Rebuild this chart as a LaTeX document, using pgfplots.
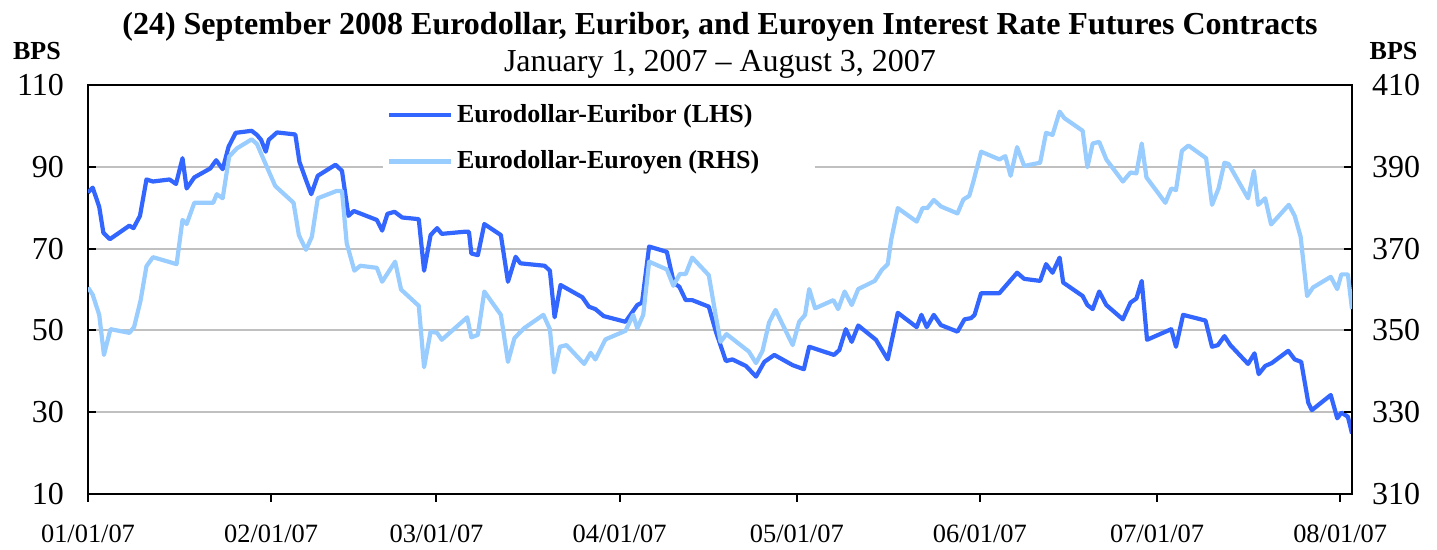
\documentclass[border=0pt]{standalone}
\usepackage{fontspec}
\setmainfont{Liberation Serif}
\usepackage{pgfplots}
\pgfplotsset{compat=1.18}
\definecolor{dblue}{RGB}{51,102,255}
\definecolor{lblue}{RGB}{153,204,255}
\definecolor{gridgray}{RGB}{192,192,192}

\pgfplotstableread{
d v
0 83.7
0.8 84.9
1.9 80.2
2.6 73.9
3.7 72.3
7.0 75.6
7.7 75.0
8.8 78.0
9.9 86.9
11.0 86.4
13.8 86.9
14.9 85.8
16.0 92.1
16.7 84.7
18.0 87.4
20.7 89.6
21.7 91.6
22.8 89.4
23.8 94.9
25.0 98.3
27.7 98.8
28.6 97.8
29.3 96.6
30.1 93.7
30.6 96.6
32.0 98.4
35.1 97.9
35.8 91.2
37.0 86.4
37.8 83.3
38.9 87.8
41.9 90.5
43.0 89.0
44.1 78.0
45.0 79.2
48.9 77.0
49.8 74.4
50.7 78.5
51.9 79.0
53.2 77.6
56.0 77.2
56.9 64.6
58.0 73.3
59.1 75.0
59.9 73.6
63.6 74.1
64.5 74.1
64.9 68.8
66.0 68.4
67.1 76.0
69.9 73.3
71.1 61.9
72.4 68.0
73.2 66.4
77.3 65.8
78.2 64.6
79.0 53.2
80.0 61.1
83.7 58.1
84.8 55.8
85.9 55.2
87.3 53.5
91.0 52.1
93.0 56.2
93.8 56.8
95.0 70.5
98.0 69.2
99.2 61.5
100.1 60.7
101.2 57.4
102.3 57.4
105.1 55.8
106.3 49.7
108.0 42.5
109.1 42.9
111.4 41.3
113.1 38.7
114.5 42.3
116.2 44.0
119.3 41.5
121.2 40.5
122.1 46.0
126.3 44.0
127.2 45.2
128.3 50.3
129.3 47.2
130.4 51.2
133.4 47.7
135.4 42.9
137.1 54.3
140.3 50.8
141.1 53.8
142.0 50.8
143.2 53.8
144.4 51.3
147.2 49.7
148.4 52.7
149.5 53.0
150.1 53.8
151.2 59.1
154.3 59.1
157.3 64.1
158.5 62.6
161.2 62.1
162.2 66.2
163.3 64.1
164.5 67.8
165.1 61.7
168.4 58.4
169.2 56.2
170.1 55.2
171.2 59.5
172.4 56.2
175.2 52.7
176.5 56.8
177.5 57.8
178.4 62.1
179.3 47.7
183.4 50.3
184.2 46.0
185.4 53.8
189.2 52.4
190.3 46.0
191.3 46.4
192.4 48.6
193.4 46.4
196.4 41.8
197.5 44.4
198.2 39.3
199.3 41.3
200.4 42.0
203.2 45.0
204.3 42.9
205.4 42.3
206.6 32.3
207.2 30.5
210.4 34.2
211.5 28.5
212.2 29.9
213.3 28.9
214 24.8
}\euribor

\pgfplotstableread{
d v
0 360.5
0.8 358.7
1.9 353.8
2.7 344.0
3.8 350.3
7.0 349.4
7.8 350.8
8.9 357.3
9.9 365.7
11.0 367.9
15.0 366.2
16.0 377.0
16.7 376.0
18.0 381.2
21.2 381.2
21.8 383.3
22.8 382.3
23.9 392.5
25.2 394.5
27.7 396.7
28.6 395.6
30.0 390.9
31.7 385.3
34.8 381.2
35.7 373.3
36.9 369.7
37.9 372.9
38.9 382.3
42.1 384.1
43.0 384.1
43.8 371.3
45.1 364.6
46.1 365.8
48.9 365.3
49.8 361.9
52.0 366.8
53.0 360.0
56.0 356.0
56.9 341.0
58.0 349.7
59.1 349.4
59.9 347.7
64.2 353.2
64.9 348.3
66.0 348.9
67.1 359.5
69.9 353.8
71.1 342.3
72.2 348.1
73.8 350.5
77.1 353.8
78.2 350.3
78.9 339.7
79.9 346.0
81.0 346.4
84.0 341.8
85.1 344.5
85.9 342.9
87.6 347.8
91.0 349.9
92.3 353.8
93.0 350.5
94.0 353.8
95.0 366.8
98.0 364.9
99.1 360.9
100.2 363.8
101.2 363.8
102.3 367.8
105.1 363.5
106.3 353.4
107.1 347.2
108.1 349.1
111.9 344.8
113.1 342.0
114.2 345.0
115.3 351.9
116.4 355.0
119.3 346.4
120.4 352.1
121.4 353.8
122.1 360.1
123.1 355.4
126.2 357.4
127.0 355.2
128.1 359.5
129.3 356.2
130.4 360.1
133.2 362.1
134.4 364.8
135.4 366.2
136.0 372.3
137.1 379.9
140.3 376.6
141.3 379.9
142.1 379.9
143.2 381.9
144.4 380.3
147.2 378.6
148.2 382.0
149.2 382.9
149.9 386.4
151.2 393.7
154.3 391.8
155.3 392.6
156.2 387.8
157.3 394.8
158.5 390.2
161.2 391.0
162.2 398.3
163.3 397.8
164.5 403.5
165.3 401.9
168.4 398.8
169.2 389.9
170.1 395.7
171.2 396.1
172.4 391.8
175.2 386.4
176.5 388.6
177.5 388.4
178.4 395.7
179.2 387.4
182.4 381.2
183.4 384.7
184.2 384.3
185.2 393.9
186.3 395.2
189.3 392.1
190.3 380.7
191.4 384.7
192.4 391.0
193.1 390.7
196.4 382.3
197.4 389.0
198.1 380.7
199.3 382.3
200.3 375.9
203.3 380.7
204.3 378.0
205.3 372.9
206.4 358.4
207.4 360.5
210.4 363.1
211.5 360.1
212.2 363.7
213.3 363.7
214 355.2
}\euroyen

\begin{document}
\begin{tikzpicture}
\begin{axis}[
  name=ax, scale only axis, width=632pt, height=204.5pt,
  xmin=0, xmax=214, ymin=10, ymax=110,
  xtick={0,31,59,90,120,151,181,212},
  xticklabels={01/01/07,02/01/07,03/01/07,04/01/07,05/01/07,06/01/07,07/01/07,08/01/07},
  ytick={10,30,50,70,90,110},
  xtick pos=bottom, ytick pos=left,
  xtick align=outside, ytick align=inside,
  major tick length=4pt,
  tick style={black, line width=1pt},
  axis line style={black, line width=1pt},
  ymajorgrids, grid style={gridgray, line width=1pt},
  /pgf/number format/assume math mode=true,
  yticklabel style={font=\fontsize{16}{16}\selectfont, xshift=-8.5pt},
  xticklabel style={font=\fontsize{13.2}{13.2}\selectfont, yshift=-8pt},
  clip=true,
]
\addplot[dblue, line width=2.1pt, line join=round] table[x=d, y=v]{\euribor};
\end{axis}
\begin{axis}[
  scale only axis, width=632pt, height=204.5pt,
  xmin=0, xmax=214, ymin=310, ymax=410,
  axis x line=none, axis y line*=right,
  ytick={310,330,350,370,390,410},
  ytick align=inside,
  major tick length=4pt,
  tick style={black, line width=1pt},
  y axis line style={black, line width=1pt, -},
  /pgf/number format/assume math mode=true,
  yticklabel style={font=\fontsize{16}{16}\selectfont, xshift=6.5pt},
  legend style={at={(0.233,0.972)}, anchor=north west, fill=white, draw=none,
    font=\bfseries\fontsize{13}{15}\selectfont, row sep=8.5pt, inner sep=2pt},
  legend cell align=left,
  legend image code/.code={\draw[#1] (0pt,0pt) -- (31pt,0pt);},
]
\addlegendimage{dblue, line width=2.1pt}
\addlegendentry{Eurodollar-Euribor (LHS)}
\addplot[lblue, line width=2.1pt, line join=round] table[x=d, y=v]{\euroyen};
\addlegendentry{Eurodollar-Euroyen (RHS)\hspace*{24pt}}
\end{axis}
\node[font=\bfseries\fontsize{16}{16}\selectfont] at ([yshift=29pt]ax.north) {(24) September 2008 Eurodollar, Euribor, and Euroyen Interest Rate Futures Contracts};
\node[font=\fontsize{16}{16}\selectfont] at ([yshift=10.5pt]ax.north) {January 1, 2007 -- August 3, 2007};
\node[font=\bfseries\fontsize{13}{13}\selectfont] at ([xshift=-25.5pt,yshift=17pt]ax.north west) {BPS};
\node[font=\bfseries\fontsize{13}{13}\selectfont] at ([xshift=20.75pt,yshift=17pt]ax.north east) {BPS};
\pgfresetboundingbox
\useasboundingbox ([xshift=-44pt,yshift=-28pt]ax.south west) rectangle ([xshift=42.5pt,yshift=42.5pt]ax.north east);
\end{tikzpicture}
\end{document}
